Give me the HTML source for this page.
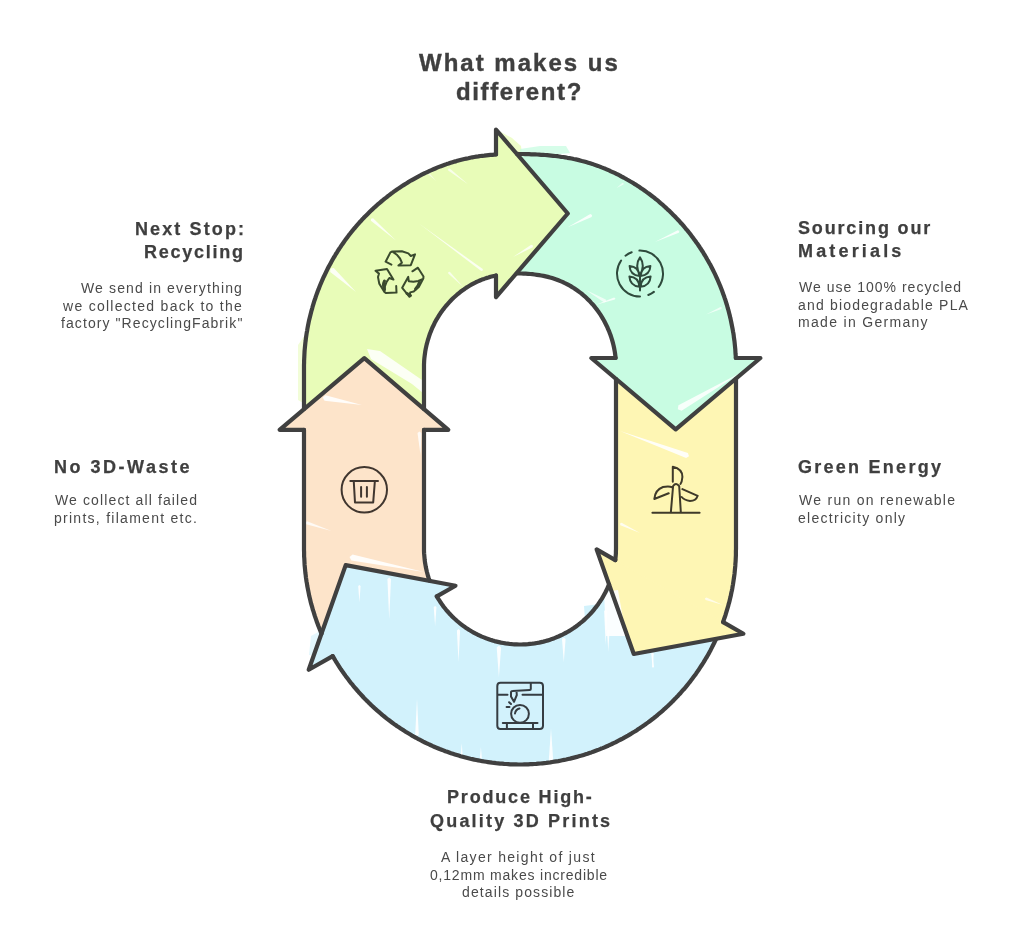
<!DOCTYPE html>
<html><head><meta charset="utf-8"><style>
html,body{margin:0;padding:0;background:#fff;width:1036px;height:940px;overflow:hidden}
body{position:relative;font-family:"Liberation Sans",sans-serif}
svg{position:absolute;left:0;top:0}
.st{fill:none;stroke:#404040;stroke-width:4.2;stroke-linejoin:round;stroke-linecap:round}
.t{position:absolute;white-space:nowrap;will-change:transform}
/*x*/.title{-webkit-text-stroke:0.4px #3f3f3f;font-weight:bold;font-size:24px;line-height:24px;color:#3f3f3f}
.h{-webkit-text-stroke:0.25px #3f3f3f;font-weight:bold;font-size:18px;line-height:18px;color:#3f3f3f}
.b{font-weight:normal;font-size:14px;line-height:14px;color:#4a4a4a}
</style></head><body>
<svg width="1036" height="940" viewBox="0 0 1036 940">
<path d="M499,131 L512,138 L521,146 L522,154 L500,154Z" fill="#E8FCB8" opacity="0.75"/>
<path d="M520,149 L540,146 L566,146 L570,153 L520,158Z" fill="#C8FCE2" opacity="0.75"/>
<path d="M298,345 L305,335 L305,404 L298,400Z" fill="#E8FCB8" opacity="0.55"/>
<path d="M311,636 L322,630 L318,656 L309,655Z" fill="#D2F2FC" opacity="0.6"/>
<path d="M584,606 L600,604 L606,600 L606,634 L586,634Z" fill="#D2F2FC"/>
<path d="M304.0,420.0 L304.0,367.0 L304.1,359.3 L304.5,351.6 L305.2,344.0 L306.2,336.3 L307.4,328.8 L308.9,321.2 L310.7,313.7 L312.7,306.3 L315.0,299.0 L317.5,291.7 L320.3,284.6 L323.4,277.5 L326.7,270.6 L330.3,263.8 L334.1,257.1 L338.1,250.5 L342.4,244.1 L346.8,237.9 L351.5,231.8 L356.5,225.9 L361.6,220.2 L366.9,214.6 L372.4,209.3 L378.1,204.1 L384.0,199.2 L390.1,194.4 L396.3,189.9 L402.7,185.6 L409.2,181.6 L415.9,177.8 L422.7,174.2 L429.6,170.9 L436.7,167.9 L443.8,165.1 L451.0,162.6 L458.4,160.5 L465.8,158.7 L473.3,157.1 L480.8,156.0 L488.4,155.1 L496.0,154.5 L496.0,275.5 L492.7,276.3 L489.4,277.1 L486.2,278.1 L483.0,279.2 L479.9,280.5 L476.8,281.8 L473.8,283.3 L470.8,284.9 L467.9,286.7 L465.1,288.5 L462.3,290.5 L459.6,292.5 L457.0,294.7 L454.5,297.0 L452.0,299.3 L449.6,301.8 L447.4,304.3 L445.2,306.9 L443.1,309.6 L441.1,312.4 L439.2,315.2 L437.4,318.1 L435.7,321.1 L434.1,324.1 L432.6,327.2 L431.3,330.3 L430.0,333.5 L428.9,336.7 L427.9,340.0 L427.0,343.3 L426.2,346.6 L425.5,350.0 L425.0,353.4 L424.5,356.8 L424.2,360.2 L424.1,363.6 L424.0,367.0 L424.0,420.0Z" fill="#E8FCB8"/>
<path d="M510.0,154.0 L517.6,153.9 L525.1,154.1 L532.7,154.3 L540.2,154.7 L547.7,155.2 L555.2,156.0 L562.6,157.0 L570.0,158.2 L577.4,159.8 L584.6,161.6 L591.8,163.8 L598.9,166.3 L605.9,169.0 L612.7,172.1 L619.5,175.4 L626.2,178.9 L632.7,182.8 L639.1,186.8 L645.3,191.1 L651.4,195.6 L657.3,200.3 L663.1,205.2 L668.6,210.3 L674.0,215.6 L679.2,221.1 L684.2,226.7 L689.1,232.6 L693.7,238.6 L698.0,244.7 L702.2,251.0 L706.2,257.5 L709.9,264.1 L713.4,270.8 L716.6,277.6 L719.6,284.5 L722.4,291.6 L724.9,298.7 L727.2,305.9 L729.2,313.2 L730.9,320.6 L732.4,328.0 L733.7,335.4 L734.7,342.9 L735.4,350.5 L735.8,358.0 L615.6,358.0 L615.2,354.6 L614.7,351.3 L614.1,348.0 L613.4,344.7 L612.5,341.4 L611.6,338.2 L610.5,335.0 L609.3,331.8 L608.0,328.8 L606.6,325.7 L605.1,322.7 L603.5,319.7 L601.8,316.8 L600.0,314.0 L598.1,311.2 L596.1,308.5 L594.0,305.9 L591.8,303.4 L589.5,300.9 L587.1,298.6 L584.7,296.3 L582.1,294.1 L579.5,292.1 L576.8,290.1 L574.1,288.2 L571.3,286.5 L568.4,284.9 L565.4,283.3 L562.4,281.9 L559.4,280.6 L556.3,279.5 L553.1,278.4 L550.0,277.5 L546.7,276.7 L543.5,275.9 L540.2,275.3 L536.9,274.8 L533.5,274.3 L530.2,274.0 L526.8,273.7 L523.5,273.6 L520.1,273.5 L516.7,273.5 L513.4,273.5 L510.0,273.7Z" fill="#C8FCE2"/>
<path d="M736.0,365.0 L736.0,548.5 L735.8,556.8 L735.4,565.2 L734.6,573.5 L733.4,581.8 L732.0,590.0 L730.2,598.1 L728.1,606.2 L725.8,614.2 L723.1,622.1 L615.3,560.1 L615.7,556.3 L615.9,552.4 L616.0,548.5 L616.0,365.0Z" fill="#FEF6B4"/>
<path d="M720.3,629.4 L717.3,636.4 L714.1,643.2 L710.7,649.9 L707.0,656.5 L703.2,663.0 L699.0,669.3 L694.7,675.5 L690.2,681.5 L685.4,687.4 L680.5,693.1 L675.3,698.6 L670.0,703.9 L664.5,709.1 L658.8,714.0 L652.9,718.8 L646.9,723.3 L640.7,727.6 L634.3,731.8 L627.9,735.6 L621.3,739.3 L614.5,742.7 L607.7,745.9 L600.7,748.8 L593.7,751.5 L586.6,754.0 L579.3,756.2 L572.0,758.1 L564.7,759.8 L557.3,761.3 L549.8,762.4 L542.3,763.3 L534.8,764.0 L527.3,764.4 L519.7,764.5 L512.2,764.4 L504.6,764.0 L497.1,763.3 L489.6,762.4 L482.2,761.2 L474.8,759.7 L467.4,758.0 L460.1,756.0 L452.9,753.8 L445.8,751.4 L438.8,748.6 L431.8,745.7 L425.0,742.5 L418.3,739.0 L411.7,735.4 L405.2,731.5 L398.9,727.3 L392.7,723.0 L386.7,718.5 L380.8,713.7 L375.1,708.7 L369.6,703.6 L364.3,698.2 L359.2,692.7 L354.2,687.0 L349.5,681.1 L345.0,675.1 L340.7,668.9 L336.6,662.5 L332.7,656.1 L436.8,596.4 L438.5,599.3 L440.4,602.1 L442.3,604.9 L444.4,607.6 L446.5,610.2 L448.7,612.8 L451.0,615.2 L453.4,617.6 L455.9,619.9 L458.4,622.1 L461.0,624.3 L463.7,626.3 L466.5,628.2 L469.4,630.1 L472.3,631.8 L475.2,633.4 L478.2,634.9 L481.3,636.4 L484.4,637.7 L487.6,638.9 L490.8,639.9 L494.0,640.9 L497.3,641.8 L500.6,642.5 L503.9,643.1 L507.2,643.6 L510.6,644.0 L513.9,644.3 L517.3,644.5 L520.7,644.5 L524.1,644.4 L527.4,644.2 L530.8,643.9 L534.2,643.5 L537.5,642.9 L540.8,642.2 L544.1,641.4 L547.3,640.5 L550.5,639.5 L553.7,638.4 L556.9,637.1 L560.0,635.8 L563.0,634.3 L566.0,632.8 L568.9,631.1 L571.8,629.3 L574.6,627.4 L577.4,625.5 L580.0,623.4 L582.6,621.2 L585.2,619.0 L587.6,616.7 L590.0,614.2 L592.2,611.7 L594.4,609.2 L596.5,606.5 L598.5,603.8 L600.4,601.0 L602.2,598.1 L603.9,595.2 L605.5,592.2 L606.9,589.2 L608.3,586.1 L609.6,583.0 L610.8,579.8 L611.8,576.6 L612.7,573.3Z" fill="#D2F2FC"/>
<path d="M324.2,639.8 L321.0,632.6 L318.1,625.3 L315.5,617.9 L313.1,610.4 L311.0,602.9 L309.1,595.3 L307.6,587.6 L306.3,579.8 L305.3,572.0 L304.6,564.2 L304.1,556.4 L304.0,548.5 L304.0,429.8 L424.0,429.8 L424.0,548.5 L424.1,552.0 L424.3,555.5 L424.6,559.0 L425.0,562.4 L425.6,565.9 L426.3,569.3 L427.1,572.7 L428.0,576.0 L429.1,579.4 L430.3,582.6 L431.6,585.9 L433.0,589.1Z" fill="#FDE4CA"/>
<path d="M496.0,129.6 L567.8,213.5 L496.0,297.1Z" fill="#E8FCB8" stroke="#E8FCB8" stroke-width="1.5" stroke-linejoin="round"/>
<path d="M760.4,358.0 L675.7,429.4 L591.3,358.0Z" fill="#C8FCE2" stroke="#C8FCE2" stroke-width="1.5" stroke-linejoin="round"/>
<path d="M743.4,633.8 L633.8,654.0 L596.6,549.4Z" fill="#FEF6B4" stroke="#FEF6B4" stroke-width="1.5" stroke-linejoin="round"/>
<path d="M308.7,669.8 L345.7,565.1 L455.5,585.7Z" fill="#D2F2FC" stroke="#D2F2FC" stroke-width="1.5" stroke-linejoin="round"/>
<path d="M279.6,429.8 L364.3,358.1 L448.3,429.8Z" fill="#FDE4CA" stroke="#FDE4CA" stroke-width="1.5" stroke-linejoin="round"/>
<path d="M370.9,220.7 L396.0,240.6 L373.1,218.3 L371.0,218.7Z" fill="#fff" opacity="0.85"/>
<path d="M482.8,269.0 L419.0,223.6 L481.2,271.0 L482.8,270.6Z" fill="#fff" opacity="0.8"/>
<path d="M330.2,271.9 L356.0,292.0 L333.8,268.1 L330.5,268.6Z" fill="#fff" opacity="0.85"/>
<path d="M448.2,273.4 L463.8,287.4 L449.8,271.8 L448.3,271.9Z" fill="#fff" opacity="0.7"/>
<path d="M448.2,170.4 L468.0,184.3 L449.8,168.4 L448.2,168.8Z" fill="#fff" opacity="0.7"/>
<path d="M427.0,173.3 L436.2,181.0 L428.4,171.9 L427.1,172.0Z" fill="#fff" opacity="0.6"/>
<path d="M367,349 L380,351 L422,380 L423,393 L412,384 L371,359Z" fill="#fff" opacity="0.85"/>
<path d="M531.2,244.7 L513.0,257.0 L532.8,247.3 L533.0,245.4Z" fill="#fff" opacity="0.8"/>
<path d="M605.8,299.6 L586.0,290.0 L604.2,302.4 L606.1,301.6Z" fill="#fff" opacity="0.7"/>
<path d="M590.3,214.1 L567.7,227.2 L591.7,216.9 L592.1,214.9Z" fill="#fff" opacity="0.85"/>
<path d="M677.7,230.2 L654.9,242.1 L678.9,232.8 L679.3,231.0Z" fill="#fff" opacity="0.85"/>
<path d="M614.1,297.4 L595.3,305.0 L614.9,299.6 L615.4,298.2Z" fill="#fff" opacity="0.8"/>
<path d="M720.4,306.9 L706.0,314.5 L721.4,309.1 L721.8,307.6Z" fill="#fff" opacity="0.7"/>
<path d="M622.4,182.8 L616.6,187.9 L623.6,184.4 L623.7,183.2Z" fill="#fff" opacity="0.6"/>
<path d="M681.6,410.8 L742.0,372.0 L678.4,405.2 L677.8,409.3Z" fill="#fff" opacity="0.85"/>
<path d="M324.5,400.8 L362.0,405.0 L325.5,395.2 L322.8,397.6Z" fill="#fff" opacity="0.9"/>
<path d="M306.1,524.2 L331.5,531.0 L307.1,521.2 L305.4,522.3Z" fill="#fff" opacity="0.8"/>
<path d="M351.4,560.6 L424.0,572.0 L352.6,554.4 L349.5,557.0Z" fill="#fff" opacity="0.9"/>
<path d="M417.5,433.1 L420.5,455.0 L421.5,432.9 L419.4,431.4Z" fill="#fff" opacity="0.8"/>
<path d="M687.9,453.1 L620.0,431.0 L686.1,457.9 L689.0,456.2Z" fill="#fff" opacity="0.9"/>
<path d="M620.4,525.3 L640.0,533.0 L621.6,522.7 L620.0,523.5Z" fill="#fff" opacity="0.8"/>
<path d="M705.5,599.9 L723.0,605.0 L706.5,597.5 L705.0,598.3Z" fill="#fff" opacity="0.7"/>
<path d="M456.9,630.4 L458.5,662.3 L460.1,630.4 L458.5,629.1Z" fill="#fff" opacity="0.9"/>
<path d="M496.7,647.4 L498.9,677.2 L501.1,647.4 L498.9,645.6Z" fill="#fff" opacity="0.9"/>
<path d="M562.0,639.0 L563.8,662.3 L565.6,639.0 L563.8,637.6Z" fill="#fff" opacity="0.9"/>
<path d="M433.7,607.0 L435.1,626.2 L436.5,607.0 L435.1,605.9Z" fill="#fff" opacity="0.9"/>
<path d="M387.4,579.0 L389.2,619.4 L391.0,579.0 L389.2,577.6Z" fill="#fff" opacity="0.9"/>
<path d="M358.2,586.0 L359.4,602.5 L360.6,586.0 L359.4,585.0Z" fill="#fff" opacity="0.9"/>
<path d="M604.1,611.0 L605.7,645.0 L607.3,611.0 L605.7,609.7Z" fill="#fff" opacity="0.9"/>
<path d="M651.2,653.4 L652.5,667.0 L653.8,653.4 L652.5,652.4Z" fill="#fff" opacity="0.9"/>
<path d="M607.0,630.6 L608.3,652.0 L609.6,630.6 L608.3,629.6Z" fill="#fff" opacity="0.9"/>
<path d="M418.8,734.7 L417.0,698.5 L415.2,734.7 L417.0,736.1Z" fill="#fff" opacity="0.9"/>
<path d="M553.2,760.2 L551.0,728.3 L548.8,760.2 L551.0,762.0Z" fill="#fff" opacity="0.9"/>
<path d="M462.9,758.0 L461.7,743.0 L460.5,758.0 L461.7,759.0Z" fill="#fff" opacity="0.9"/>
<path d="M481.9,758.0 L480.9,747.0 L479.9,758.0 L480.9,758.8Z" fill="#fff" opacity="0.9"/>
<path d="M654.0,667.0 L653.0,656.0 L652.0,667.0 L653.0,667.8Z" fill="#fff" opacity="0.9"/>
<path d="M604,592 L618,590 L626,636 L606,636Z" fill="#fff" opacity="0.9"/>
<path d="M304.0,409.0 L304.0,407.0 L304.0,405.0 L304.0,403.0 L304.0,401.0 L304.0,399.0 L304.0,397.0 L304.0,395.0 L304.0,393.0 L304.0,391.0 L304.0,389.0 L304.0,387.0 L304.0,385.0 L304.0,383.0 L304.0,381.0 L304.0,379.0 L304.0,377.0 L304.0,375.0 L304.0,373.0 L304.0,371.0 L304.0,369.0 L304.0,367.0 L304.0,365.0 L304.1,362.9 L304.1,360.9 L304.2,358.8 L304.3,356.8 L304.4,354.7 L304.5,352.7 L304.6,350.6 L304.8,348.6 L305.0,346.5 L305.2,344.5 L305.4,342.5 L305.7,340.4 L305.9,338.4 L306.2,336.3 L306.5,334.3 L306.8,332.3 L307.2,330.3 L307.5,328.3 L307.9,326.2 L308.3,324.2 L308.7,322.2 L309.1,320.2 L309.6,318.2 L310.1,316.2 L310.6,314.2 L311.1,312.3 L311.6,310.3 L312.2,308.3 L312.7,306.3 L313.3,304.4 L313.9,302.4 L314.5,300.4 L315.2,298.5 L315.8,296.6 L316.5,294.6 L317.2,292.7 L317.9,290.8 L318.7,288.9 L319.4,287.0 L320.2,285.0 L321.0,283.2 L321.8,281.3 L322.6,279.4 L323.4,277.5 L324.3,275.7 L325.2,273.8 L326.1,272.0 L327.0,270.1 L327.9,268.3 L328.8,266.5 L329.8,264.7 L330.8,262.9 L331.8,261.1 L332.8,259.3 L333.8,257.5 L334.9,255.8 L335.9,254.0 L337.0,252.3 L338.1,250.5 L339.2,248.8 L340.4,247.1 L341.5,245.4 L342.7,243.7 L343.9,242.0 L345.0,240.4 L346.2,238.7 L347.5,237.1 L348.7,235.4 L350.0,233.8 L351.2,232.2 L352.5,230.6 L353.8,229.0 L355.2,227.5 L356.5,225.9 L357.8,224.4 L359.2,222.8 L360.6,221.3 L361.9,219.8 L363.4,218.3 L364.8,216.8 L366.2,215.4 L367.7,213.9 L369.1,212.5 L370.6,211.0 L372.1,209.6 L373.6,208.2 L375.1,206.9 L376.6,205.5 L378.1,204.1 L379.7,202.8 L381.3,201.5 L382.9,200.2 L384.4,198.9 L386.1,197.6 L387.7,196.3 L389.3,195.1 L390.9,193.8 L392.6,192.6 L394.2,191.4 L395.9,190.2 L397.6,189.1 L399.3,187.9 L401.0,186.8 L402.7,185.6 L404.4,184.6 L406.2,183.5 L407.9,182.4 L409.7,181.3 L411.4,180.3 L413.2,179.3 L415.0,178.3 L416.8,177.3 L418.6,176.3 L420.4,175.4 L422.2,174.4 L424.1,173.5 L425.9,172.7 L427.8,171.8 L429.6,170.9 L431.5,170.1 L433.4,169.3 L435.3,168.5 L437.1,167.7 L439.0,166.9 L440.9,166.2 L442.9,165.5 L444.8,164.8 L446.7,164.1 L448.6,163.5 L450.6,162.8 L452.5,162.2 L454.5,161.6 L456.4,161.1 L458.4,160.5 L460.3,160.0 L462.3,159.5 L464.3,159.0 L466.3,158.6 L468.3,158.2 L470.3,157.7 L472.3,157.3 L474.3,157.0 L476.3,156.7 L478.3,156.4 L480.3,156.0 L482.3,155.8 L484.3,155.6 L486.4,155.3 L488.4,155.1 L490.4,154.9 L492.4,154.8 L494.5,154.6 L496.0,154.5" class="st"/>
<path d="M424.0,409.0 L424.0,407.0 L424.0,405.0 L424.0,403.0 L424.0,401.0 L424.0,399.0 L424.0,397.0 L424.0,395.0 L424.0,393.0 L424.0,391.0 L424.0,389.0 L424.0,387.0 L424.0,385.0 L424.0,383.0 L424.0,381.0 L424.0,379.0 L424.0,377.0 L424.0,375.0 L424.0,373.0 L424.0,371.0 L424.0,369.0 L424.0,367.0 L424.0,364.7 L424.1,362.4 L424.2,360.2 L424.4,357.9 L424.7,355.6 L425.0,353.4 L425.3,351.1 L425.7,348.9 L426.2,346.6 L426.7,344.4 L427.3,342.2 L427.9,340.0 L428.6,337.8 L429.3,335.7 L430.0,333.5 L430.9,331.4 L431.7,329.3 L432.6,327.2 L433.6,325.2 L434.6,323.1 L435.7,321.1 L436.8,319.1 L438.0,317.2 L439.2,315.2 L440.4,313.3 L441.7,311.5 L443.1,309.6 L444.5,307.8 L445.9,306.0 L447.4,304.3 L448.9,302.6 L450.4,301.0 L452.0,299.3 L453.6,297.7 L455.3,296.2 L457.0,294.7 L458.7,293.3 L460.5,291.8 L462.3,290.5 L464.2,289.2 L466.0,287.9 L467.9,286.7 L469.9,285.5 L471.8,284.4 L473.8,283.3 L475.8,282.3 L477.9,281.4 L479.9,280.5 L482.0,279.6 L484.1,278.9 L486.2,278.1 L488.4,277.5 L490.5,276.8 L492.7,276.3 L494.9,275.8 L496.0,275.5" class="st"/>
<path d="M517.1,153.9 L519.1,154.0 L521.1,154.0 L523.1,154.0 L525.1,154.1 L527.1,154.1 L529.1,154.2 L531.2,154.3 L533.2,154.3 L535.2,154.4 L537.2,154.5 L539.2,154.6 L541.2,154.8 L543.2,154.9 L545.2,155.0 L547.2,155.2 L549.2,155.4 L551.2,155.6 L553.2,155.8 L555.2,156.0 L557.2,156.2 L559.2,156.5 L561.2,156.8 L563.2,157.0 L565.3,157.4 L567.4,157.8 L569.5,158.1 L571.6,158.5 L573.7,159.0 L575.8,159.4 L577.9,159.9 L579.9,160.4 L582.0,161.0 L584.1,161.5 L586.1,162.1 L588.2,162.7 L590.2,163.3 L592.3,163.9 L594.1,164.6 L596.0,165.3 L597.9,165.9 L599.8,166.6 L601.7,167.4 L603.5,168.1 L605.4,168.8 L607.2,169.6 L609.1,170.4 L610.9,171.3 L612.7,172.1 L614.6,172.9 L616.4,173.8 L618.2,174.7 L620.0,175.6 L621.7,176.6 L623.5,177.5 L625.3,178.5 L627.0,179.5 L628.8,180.5 L630.5,181.5 L632.3,182.5 L634.0,183.6 L635.7,184.6 L637.4,185.7 L639.1,186.8 L640.7,187.9 L642.4,189.1 L644.1,190.2 L645.7,191.4 L647.3,192.6 L649.0,193.8 L650.6,195.0 L652.2,196.2 L653.8,197.4 L655.3,198.7 L656.9,199.9 L658.5,201.2 L660.0,202.6 L661.5,203.9 L663.1,205.2 L664.5,206.5 L666.0,207.9 L667.5,209.3 L669.0,210.6 L670.4,212.0 L671.9,213.5 L673.3,214.9 L674.7,216.3 L676.1,217.8 L677.5,219.2 L678.9,220.7 L680.2,222.2 L681.6,223.7 L682.9,225.2 L684.2,226.7 L685.5,228.3 L686.8,229.8 L688.1,231.4 L689.4,233.0 L690.6,234.6 L691.8,236.2 L693.0,237.8 L694.2,239.4 L695.4,241.0 L696.6,242.7 L697.8,244.3 L698.9,246.0 L700.0,247.7 L701.1,249.3 L702.2,251.0 L703.3,252.7 L704.3,254.5 L705.4,256.2 L706.4,257.9 L707.4,259.7 L708.4,261.4 L709.4,263.2 L710.4,264.9 L711.3,266.7 L712.2,268.5 L713.1,270.3 L714.0,272.1 L714.9,273.9 L715.8,275.8 L716.6,277.6 L717.4,279.4 L718.2,281.3 L719.0,283.1 L719.8,285.0 L720.6,286.9 L721.3,288.7 L722.0,290.6 L722.7,292.5 L723.4,294.4 L724.1,296.3 L724.7,298.2 L725.4,300.1 L726.0,302.1 L726.6,304.0 L727.2,305.9 L727.7,307.9 L728.3,309.8 L728.8,311.7 L729.3,313.7 L729.8,315.6 L730.2,317.6 L730.7,319.6 L731.1,321.5 L731.5,323.5 L731.9,325.5 L732.3,327.5 L732.7,329.5 L733.0,331.4 L733.4,333.4 L733.7,335.4 L733.9,337.4 L734.2,339.4 L734.5,341.4 L734.7,343.4 L734.9,345.4 L735.1,347.4 L735.3,349.4 L735.4,351.5 L735.5,353.5 L735.7,355.5 L735.8,357.5 L735.8,358.0" class="st"/>
<path d="M516.7,273.5 L519.0,273.5 L521.2,273.5 L523.5,273.6 L525.7,273.7 L528.0,273.8 L530.2,274.0 L532.4,274.2 L534.7,274.5 L536.9,274.8 L539.1,275.1 L541.3,275.5 L543.5,275.9 L545.6,276.4 L547.8,276.9 L550.0,277.5 L552.1,278.1 L554.2,278.8 L556.3,279.5 L558.4,280.3 L560.4,281.1 L562.4,281.9 L564.4,282.9 L566.4,283.8 L568.4,284.9 L570.3,285.9 L572.2,287.1 L574.1,288.2 L575.9,289.5 L577.7,290.8 L579.5,292.1 L581.3,293.4 L583.0,294.9 L584.7,296.3 L586.3,297.8 L587.9,299.4 L589.5,300.9 L591.0,302.6 L592.5,304.2 L594.0,305.9 L595.4,307.7 L596.7,309.4 L598.1,311.2 L599.4,313.1 L600.6,314.9 L601.8,316.8 L603.0,318.8 L604.1,320.7 L605.1,322.7 L606.1,324.7 L607.1,326.7 L608.0,328.8 L608.9,330.8 L609.7,332.9 L610.5,335.0 L611.2,337.1 L611.9,339.3 L612.5,341.4 L613.1,343.6 L613.6,345.8 L614.1,348.0 L614.5,350.2 L614.9,352.4 L615.2,354.6 L615.5,356.9 L615.6,358.0" class="st"/>
<path d="M736.0,379.0 L736.0,381.0 L736.0,383.0 L736.0,385.0 L736.0,387.0 L736.0,389.0 L736.0,391.0 L736.0,393.0 L736.0,395.0 L736.0,397.0 L736.0,399.0 L736.0,401.0 L736.0,403.0 L736.0,405.0 L736.0,407.0 L736.0,409.0 L736.0,411.0 L736.0,413.0 L736.0,415.0 L736.0,417.0 L736.0,419.0 L736.0,421.0 L736.0,423.0 L736.0,425.0 L736.0,427.0 L736.0,429.0 L736.0,431.0 L736.0,433.0 L736.0,435.0 L736.0,437.0 L736.0,439.0 L736.0,441.0 L736.0,443.0 L736.0,445.0 L736.0,447.0 L736.0,449.0 L736.0,451.0 L736.0,453.0 L736.0,455.0 L736.0,457.0 L736.0,459.0 L736.0,461.0 L736.0,463.0 L736.0,465.0 L736.0,467.0 L736.0,469.0 L736.0,471.0 L736.0,473.0 L736.0,475.0 L736.0,477.0 L736.0,479.0 L736.0,481.0 L736.0,483.0 L736.0,485.0 L736.0,487.0 L736.0,489.0 L736.0,491.0 L736.0,493.0 L736.0,495.0 L736.0,497.0 L736.0,499.0 L736.0,501.0 L736.0,503.0 L736.0,505.0 L736.0,507.0 L736.0,509.0 L736.0,511.0 L736.0,513.0 L736.0,515.0 L736.0,517.0 L736.0,519.0 L736.0,521.0 L736.0,523.0 L736.0,525.0 L736.0,527.0 L736.0,529.0 L736.0,531.0 L736.0,533.0 L736.0,535.0 L736.0,537.0 L736.0,539.0 L736.0,541.0 L736.0,543.0 L736.0,545.0 L736.0,547.0 L736.0,549.0 L735.9,551.1 L735.9,553.2 L735.9,555.3 L735.8,557.4 L735.7,559.4 L735.6,561.5 L735.4,563.6 L735.3,565.7 L735.1,567.8 L734.9,569.8 L734.7,571.9 L734.5,574.0 L734.2,576.1 L733.9,578.1 L733.6,580.2 L733.3,582.3 L733.0,584.3 L732.6,586.4 L732.3,588.4 L731.9,590.5 L731.4,592.5 L731.0,594.6 L730.6,596.6 L730.1,598.6 L729.6,600.7 L729.1,602.7 L728.5,604.7 L728.0,606.7 L727.4,608.7 L726.8,610.7 L726.2,612.7 L725.6,614.7 L724.9,616.7 L724.2,618.7 L723.6,620.6 L723.1,622.1" class="st"/>
<path d="M616.0,379.0 L616.0,381.0 L616.0,383.0 L616.0,385.0 L616.0,387.0 L616.0,389.0 L616.0,391.0 L616.0,393.0 L616.0,395.0 L616.0,397.0 L616.0,399.0 L616.0,401.0 L616.0,403.0 L616.0,405.0 L616.0,407.0 L616.0,409.0 L616.0,411.0 L616.0,413.0 L616.0,415.0 L616.0,417.0 L616.0,419.0 L616.0,421.0 L616.0,423.0 L616.0,425.0 L616.0,427.0 L616.0,429.0 L616.0,431.0 L616.0,433.0 L616.0,435.0 L616.0,437.0 L616.0,439.0 L616.0,441.0 L616.0,443.0 L616.0,445.0 L616.0,447.0 L616.0,449.0 L616.0,451.0 L616.0,453.0 L616.0,455.0 L616.0,457.0 L616.0,459.0 L616.0,461.0 L616.0,463.0 L616.0,465.0 L616.0,467.0 L616.0,469.0 L616.0,471.0 L616.0,473.0 L616.0,475.0 L616.0,477.0 L616.0,479.0 L616.0,481.0 L616.0,483.0 L616.0,485.0 L616.0,487.0 L616.0,489.0 L616.0,491.0 L616.0,493.0 L616.0,495.0 L616.0,497.0 L616.0,499.0 L616.0,501.0 L616.0,503.0 L616.0,505.0 L616.0,507.0 L616.0,509.0 L616.0,511.0 L616.0,513.0 L616.0,515.0 L616.0,517.0 L616.0,519.0 L616.0,521.0 L616.0,523.0 L616.0,525.0 L616.0,527.0 L616.0,529.0 L616.0,531.0 L616.0,533.0 L616.0,535.0 L616.0,537.0 L616.0,539.0 L616.0,541.0 L616.0,543.0 L616.0,545.0 L616.0,547.0 L616.0,549.1 L615.9,551.3 L615.9,553.5 L615.7,555.7 L615.5,557.9 L615.3,560.1" class="st"/>
<path d="M716.0,639.1 L715.2,640.9 L714.3,642.7 L713.4,644.5 L712.5,646.3 L711.6,648.1 L710.7,649.9 L709.7,651.7 L708.8,653.4 L707.8,655.2 L706.8,657.0 L705.7,658.7 L704.7,660.4 L703.7,662.1 L702.6,663.8 L701.5,665.5 L700.4,667.2 L699.3,668.9 L698.2,670.6 L697.0,672.2 L695.9,673.9 L694.7,675.5 L693.5,677.1 L692.3,678.7 L691.1,680.3 L689.9,681.9 L688.6,683.5 L687.3,685.1 L686.1,686.6 L684.8,688.2 L683.4,689.7 L682.1,691.2 L680.8,692.7 L679.4,694.2 L678.1,695.7 L676.7,697.1 L675.3,698.6 L673.9,700.0 L672.5,701.5 L671.0,702.9 L669.6,704.3 L668.1,705.7 L666.7,707.0 L665.2,708.4 L663.7,709.7 L662.2,711.1 L660.7,712.4 L659.1,713.7 L657.6,715.0 L656.0,716.3 L654.5,717.5 L652.9,718.8 L651.3,720.0 L649.7,721.2 L648.1,722.4 L646.4,723.6 L644.8,724.8 L643.1,725.9 L641.5,727.1 L639.8,728.2 L638.1,729.3 L636.5,730.4 L634.8,731.5 L633.0,732.5 L631.3,733.6 L629.6,734.6 L627.9,735.6 L626.1,736.6 L624.3,737.6 L622.6,738.6 L620.8,739.5 L619.0,740.4 L617.2,741.3 L615.4,742.3 L613.6,743.1 L611.8,744.0 L610.0,744.8 L608.2,745.7 L606.3,746.5 L604.5,747.3 L602.6,748.1 L600.7,748.8 L598.9,749.6 L597.0,750.3 L595.1,751.0 L593.2,751.7 L591.3,752.4 L589.4,753.0 L587.5,753.7 L585.6,754.3 L583.7,754.9 L581.7,755.5 L579.8,756.0 L577.9,756.6 L575.9,757.1 L574.0,757.6 L572.0,758.1 L570.1,758.6 L568.1,759.0 L566.2,759.5 L564.2,759.9 L562.2,760.3 L560.2,760.7 L558.3,761.1 L556.3,761.4 L554.3,761.7 L552.3,762.0 L550.3,762.4 L548.3,762.6 L546.3,762.9 L544.3,763.1 L542.3,763.3 L540.3,763.5 L538.3,763.7 L536.3,763.9 L534.3,764.0 L532.3,764.1 L530.3,764.2 L528.3,764.3 L526.3,764.4 L524.3,764.4 L522.2,764.5 L520.2,764.5 L518.2,764.5 L516.2,764.4 L514.2,764.4 L512.2,764.4 L510.2,764.3 L508.2,764.1 L506.2,764.0 L504.1,763.9 L502.1,763.7 L500.1,763.6 L498.1,763.4 L496.1,763.2 L494.1,762.9 L492.1,762.7 L490.1,762.4 L488.1,762.1 L486.2,761.8 L484.2,761.5 L482.2,761.2 L480.2,760.8 L478.2,760.4 L476.3,760.0 L474.3,759.6 L472.3,759.1 L470.4,758.7 L468.4,758.2 L466.5,757.7 L464.5,757.2 L462.6,756.7 L460.6,756.2 L458.7,755.6 L456.8,755.0 L454.9,754.4 L452.9,753.8 L451.0,753.2 L449.1,752.5 L447.2,751.8 L445.3,751.2 L443.4,750.4 L441.6,749.7 L439.7,749.0 L437.8,748.2 L436.0,747.5 L434.1,746.7 L432.3,745.9 L430.4,745.0 L428.6,744.2 L426.8,743.3 L425.0,742.5 L423.2,741.6 L421.4,740.6 L419.6,739.7 L417.8,738.8 L416.1,737.8 L414.3,736.8 L412.5,735.9 L410.8,734.8 L409.1,733.8 L407.4,732.8 L405.6,731.7 L403.9,730.6 L402.3,729.5 L400.6,728.4 L398.9,727.3 L397.2,726.2 L395.6,725.0 L393.9,723.9 L392.3,722.7 L390.7,721.5 L389.1,720.3 L387.5,719.1 L385.9,717.8 L384.3,716.5 L382.8,715.3 L381.2,714.0 L379.7,712.7 L378.2,711.4 L376.7,710.1 L375.1,708.7 L373.7,707.4 L372.2,706.0 L370.7,704.6 L369.3,703.2 L367.9,701.8 L366.4,700.4 L365.0,698.9 L363.6,697.5 L362.3,696.0 L360.9,694.5 L359.5,693.1 L358.2,691.5 L356.9,690.0 L355.6,688.5 L354.2,687.0 L353.0,685.4 L351.7,683.8 L350.4,682.3 L349.2,680.7 L348.0,679.1 L346.8,677.5 L345.6,675.9 L344.4,674.2 L343.2,672.6 L342.1,670.9 L340.9,669.3 L339.8,667.6 L338.7,665.9 L337.6,664.2 L336.6,662.5 L335.5,660.8 L334.5,659.1 L333.5,657.4 L332.7,656.1" class="st"/>
<path d="M609.0,584.5 L608.1,586.6 L607.2,588.7 L606.2,590.7 L605.2,592.7 L604.1,594.7 L603.0,596.7 L601.9,598.6 L600.7,600.5 L599.4,602.4 L598.2,604.2 L596.8,606.1 L595.4,607.8 L594.0,609.6 L592.6,611.3 L591.1,613.0 L589.6,614.6 L588.0,616.3 L586.4,617.8 L584.7,619.4 L583.1,620.9 L581.3,622.3 L579.6,623.8 L577.8,625.1 L576.0,626.5 L574.2,627.8 L572.3,629.0 L570.4,630.2 L568.5,631.4 L566.5,632.5 L564.5,633.5 L562.5,634.6 L560.5,635.5 L558.4,636.5 L556.3,637.3 L554.3,638.2 L552.1,638.9 L550.0,639.7 L547.9,640.4 L545.7,641.0 L543.5,641.6 L541.3,642.1 L539.1,642.6 L536.9,643.0 L534.7,643.4 L532.5,643.7 L530.2,643.9 L528.0,644.2 L525.8,644.3 L523.5,644.4 L521.3,644.5 L519.0,644.5 L516.8,644.4 L514.5,644.3 L512.3,644.2 L510.0,644.0 L507.8,643.7 L505.5,643.4 L503.3,643.0 L501.1,642.6 L498.9,642.1 L496.7,641.6 L494.5,641.1 L492.4,640.4 L490.2,639.8 L488.1,639.0 L486.0,638.3 L483.9,637.4 L481.8,636.6 L479.8,635.6 L477.7,634.7 L475.7,633.7 L473.7,632.6 L471.8,631.5 L469.8,630.3 L467.9,629.1 L466.1,627.9 L464.2,626.6 L462.4,625.3 L460.6,623.9 L458.9,622.5 L457.1,621.0 L455.5,619.5 L453.8,618.0 L452.2,616.4 L450.6,614.8 L449.1,613.2 L447.6,611.5 L446.1,609.8 L444.7,608.0 L443.3,606.3 L442.0,604.4 L440.7,602.6 L439.5,600.7 L438.3,598.8 L437.1,596.9 L436.8,596.4" class="st"/>
<path d="M321.5,633.6 L320.7,631.6 L319.9,629.7 L319.1,627.7 L318.3,625.8 L317.6,623.8 L316.9,621.9 L316.2,619.9 L315.5,617.9 L314.8,615.9 L314.2,613.9 L313.6,611.9 L312.9,609.9 L312.4,607.9 L311.8,605.9 L311.2,603.9 L310.7,601.9 L310.2,599.8 L309.7,597.8 L309.2,595.8 L308.8,593.7 L308.4,591.7 L308.0,589.6 L307.6,587.6 L307.2,585.5 L306.9,583.4 L306.5,581.4 L306.2,579.3 L305.9,577.2 L305.7,575.1 L305.4,573.1 L305.2,571.0 L305.0,568.9 L304.8,566.8 L304.6,564.7 L304.5,562.6 L304.4,560.5 L304.3,558.4 L304.1,556.4 L304.1,554.3 L304.1,552.2 L304.0,550.1 L304.0,548.0 L304.0,546.0 L304.0,544.0 L304.0,542.0 L304.0,540.0 L304.0,538.0 L304.0,536.0 L304.0,534.0 L304.0,532.0 L304.0,530.0 L304.0,528.0 L304.0,526.0 L304.0,524.0 L304.0,522.0 L304.0,520.0 L304.0,517.9 L304.0,515.9 L304.0,513.9 L304.0,511.9 L304.0,509.9 L304.0,507.9 L304.0,505.9 L304.0,503.9 L304.0,501.9 L304.0,499.9 L304.0,497.9 L304.0,495.9 L304.0,493.9 L304.0,491.9 L304.0,489.9 L304.0,487.9 L304.0,485.9 L304.0,483.9 L304.0,481.9 L304.0,479.9 L304.0,477.9 L304.0,475.9 L304.0,473.9 L304.0,471.9 L304.0,469.9 L304.0,467.9 L304.0,465.9 L304.0,463.9 L304.0,461.9 L304.0,459.9 L304.0,457.8 L304.0,455.8 L304.0,453.8 L304.0,451.8 L304.0,449.8 L304.0,447.8 L304.0,445.8 L304.0,443.8 L304.0,441.8 L304.0,439.8 L304.0,437.8 L304.0,435.8 L304.0,433.8 L304.0,431.8 L304.0,429.8" class="st"/>
<path d="M429.5,580.5 L428.7,578.2 L428.0,576.0 L427.4,573.8 L426.8,571.5 L426.3,569.3 L425.8,567.0 L425.4,564.7 L425.0,562.4 L424.7,560.1 L424.5,557.8 L424.3,555.5 L424.1,553.2 L424.0,550.8 L424.0,548.5 L424.0,546.5 L424.0,544.5 L424.0,542.5 L424.0,540.5 L424.0,538.5 L424.0,536.5 L424.0,534.5 L424.0,532.5 L424.0,530.5 L424.0,528.5 L424.0,526.5 L424.0,524.5 L424.0,522.5 L424.0,520.5 L424.0,518.4 L424.0,516.4 L424.0,514.4 L424.0,512.4 L424.0,510.4 L424.0,508.4 L424.0,506.4 L424.0,504.4 L424.0,502.4 L424.0,500.4 L424.0,498.4 L424.0,496.4 L424.0,494.4 L424.0,492.4 L424.0,490.4 L424.0,488.4 L424.0,486.4 L424.0,484.4 L424.0,482.4 L424.0,480.4 L424.0,478.4 L424.0,476.4 L424.0,474.4 L424.0,472.4 L424.0,470.4 L424.0,468.4 L424.0,466.4 L424.0,464.4 L424.0,462.4 L424.0,460.4 L424.0,458.3 L424.0,456.3 L424.0,454.3 L424.0,452.3 L424.0,450.3 L424.0,448.3 L424.0,446.3 L424.0,444.3 L424.0,442.3 L424.0,440.3 L424.0,438.3 L424.0,436.3 L424.0,434.3 L424.0,432.3 L424.0,430.3 L424.0,429.8" class="st"/>
<path d="M496.0,154.5 L496.0,129.6 L567.8,213.5 L496.0,297.1 L496.0,275.5" class="st"/>
<path d="M735.8,358.0 L760.4,358.0 L675.7,429.4 L591.3,358.0 L615.6,358.0" class="st"/>
<path d="M723.1,622.1 L743.4,633.8 L633.8,654.0 L596.6,549.4 L615.3,560.1" class="st"/>
<path d="M332.7,656.1 L308.7,669.8 L345.7,565.1 L455.5,585.7 L436.8,596.4" class="st"/>
<path d="M304.0,429.8 L279.6,429.8 L364.3,358.1 L448.3,429.8 L424.0,429.8" class="st"/>

<g fill="none" stroke="#3a4a2e" stroke-width="2" stroke-linejoin="round" stroke-linecap="round"><path d="M385.6,261.7 L390.4,252.4 L392.3,251.5 L401.9,251.2 L408.3,253.4 L410.8,256.0 L415.0,254.4 L410.8,265.2 L398.4,265.5 L401.9,262.7 L400.0,258.5 L396.8,254.7 L393.6,252.4 M385.6,261.7 L391.4,264.6 M417.9,267.7 L423.5,276.5 L423.3,278.6 L418.8,287.0 L413.7,291.5 L410.2,292.4 L409.5,296.8 L402.2,287.8 L408.2,276.9 L408.8,281.3 L413.4,281.8 L418.3,280.9 L421.9,279.3 M417.9,267.7 L412.4,271.3 M396.5,292.6 L386.1,293.1 L384.4,291.9 L379.3,283.8 L378.0,277.1 L379.0,273.6 L375.5,270.8 L387.0,269.0 L393.4,279.6 L389.3,278.0 L386.6,281.8 L384.9,286.4 L384.5,290.3 M396.5,292.6 L396.2,286.1"/><path d="M384.5,281 Q382.5,285 384.5,289.5 M407,293.5 L410.5,295.5 M419.5,282 Q418.5,286 415.5,289" stroke-width="3"/></g>
<g fill="none" stroke="#2f4a3c" stroke-width="2" stroke-linejoin="round" stroke-linecap="round"><path d="M639.4,250.6 A23,23 0 0 1 658.7,287.0 M653.9,291.9 A23,23 0 0 1 648.3,295.0 M640.0,296.6 A23,23 0 0 1 621.1,260.5 M625.5,255.7 A23,23 0 0 1 631.7,252.2"/><path d="M640,257.3 Q645.5,265 640,275.2 Q634.5,265 640,257.3Z M639.5,276 Q630,275 629.6,266 Q638.5,266.5 639.5,276Z M640.5,276 Q650,275 650.4,266 Q641.5,266.5 640.5,276Z M639.5,286.7 Q630,286 629.4,276.5 Q638.5,277 639.5,286.7Z M640.5,286.7 Q650,286 650.6,276.5 Q641.5,277 640.5,286.7Z M640,276 L640,290.5"/></g>
<g fill="none" stroke="#40362f" stroke-width="2" stroke-linejoin="round" stroke-linecap="round"><circle cx="364.3" cy="489.8" r="22.7"/><path d="M350.3,481 L378,481 M353.8,482 L355,502.4 L373.2,502.4 L374.8,482 M361.1,487 L361.1,496.7 M366.9,487 L366.9,496.7"/></g>
<g fill="none" stroke="#3f3a2a" stroke-width="2" stroke-linejoin="round" stroke-linecap="round"><path d="M652.4,512.7 L699.6,512.7 M670.9,511.8 L673.1,486 Q676,482 679.2,486.2 L680.8,511.8 M672.8,481.8 L672.8,466.8 Q682.5,469 682.4,477 Q682,482 680.5,484 M668.7,493.3 L654.3,499 Q655,490 663,487 Q669,486 672.2,487.2 M682.4,489.1 L697.7,495.8 Q696,501 690,501 Q684,500 681.7,497"/></g>
<g fill="none" stroke="#363d42" stroke-width="2" stroke-linejoin="round" stroke-linecap="round"><path d="M500.5,682.7 L539.8,682.7 Q543,682.7 543,686 L543,725.8 Q543,729 539.8,729 L500.5,729 Q497.3,729 497.3,725.8 L497.3,686 Q497.3,682.7 500.5,682.7Z M497.3,694.8 L507.5,694.8 M522.5,694.8 L543,694.8 M530.8,682.7 L530.8,689 Q530.8,690 529.8,690 L512.5,691 Q511,691 511,692.5 L511,696.4 L514,701.8 L516.8,695 L516.5,691 M509.1,702.2 L511,704 M506.6,707 L509.5,707 M502.8,722.9 L537.5,722.9 M506.9,723 L506.9,728 M533,723 L533,728 M515,713.5 Q515.5,709.5 519.5,708.5"/><circle cx="520" cy="713.8" r="8.9"/></g>
</svg>
<div class="t title" style="left:418.5px;top:51.0px;letter-spacing:2.01px">What makes us</div>
<div class="t title" style="left:455.8px;top:80.4px;letter-spacing:1.63px">different?</div>
<div class="t h" style="left:134.5px;top:219.5px;letter-spacing:2.11px">Next Stop:</div>
<div class="t h" style="left:143.6px;top:242.7px;letter-spacing:1.74px">Recycling</div>
<div class="t h" style="left:797.7px;top:218.9px;letter-spacing:1.84px">Sourcing our</div>
<div class="t h" style="left:797.7px;top:242.1px;letter-spacing:3.16px">Materials</div>
<div class="t h" style="left:54.4px;top:458.4px;letter-spacing:2.52px">No 3D-Waste</div>
<div class="t h" style="left:797.7px;top:458.4px;letter-spacing:2.26px">Green Energy</div>
<div class="t h" style="left:447.0px;top:788.4px;letter-spacing:1.82px">Produce High-</div>
<div class="t h" style="left:430.2px;top:812.1px;letter-spacing:2.19px">Quality 3D Prints</div>
<div class="t b" style="left:80.9px;top:281.1px;letter-spacing:1.13px">We send in everything</div>
<div class="t b" style="left:63.1px;top:298.5px;letter-spacing:1.28px">we collected back to the</div>
<div class="t b" style="left:60.6px;top:315.9px;letter-spacing:1.08px">factory &quot;RecyclingFabrik&quot;</div>
<div class="t b" style="left:798.7px;top:280.1px;letter-spacing:1.01px">We use 100% recycled</div>
<div class="t b" style="left:797.7px;top:297.5px;letter-spacing:1.18px">and biodegradable PLA</div>
<div class="t b" style="left:797.7px;top:314.9px;letter-spacing:1.31px">made in Germany</div>
<div class="t b" style="left:55.0px;top:492.5px;letter-spacing:1.12px">We collect all failed</div>
<div class="t b" style="left:54.0px;top:510.5px;letter-spacing:1.27px">prints, filament etc.</div>
<div class="t b" style="left:798.7px;top:492.5px;letter-spacing:1.29px">We run on renewable</div>
<div class="t b" style="left:797.7px;top:510.5px;letter-spacing:1.28px">electricity only</div>
<div class="t b" style="left:441.2px;top:850.1px;letter-spacing:1.31px">A layer height of just</div>
<div class="t b" style="left:429.7px;top:867.5px;letter-spacing:0.80px">0,12mm makes incredible</div>
<div class="t b" style="left:461.9px;top:884.9px;letter-spacing:1.11px">details possible</div>
</body></html>
